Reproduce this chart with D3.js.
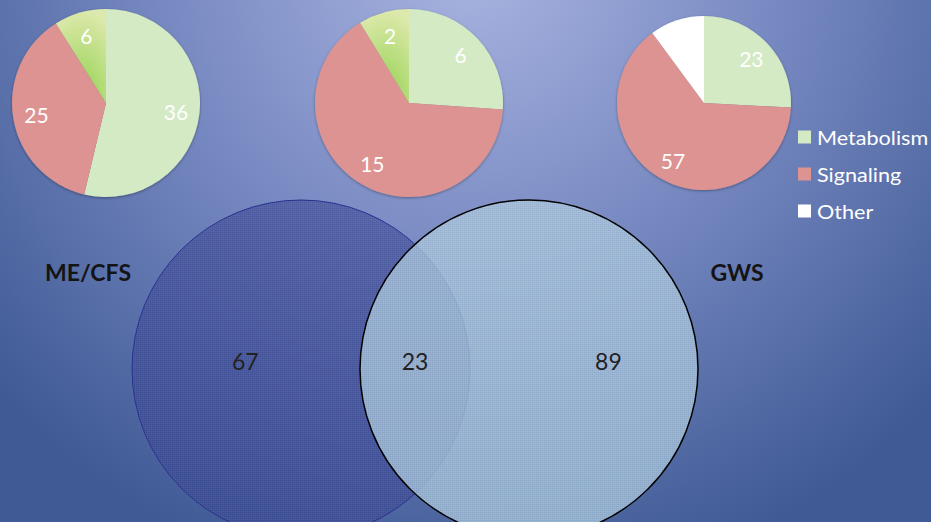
<!DOCTYPE html>
<html><head><meta charset="utf-8">
<script src="https://cdn.jsdelivr.net/npm/d3@7"></script>
<style>html,body{margin:0;padding:0;overflow:hidden;background:#6a7cb8}</style>
</head><body>
<script>
// ---- data ----
const categories = ["Metabolism", "Signaling", "Other"];
const metabolism = [36, 6, 23];
const signaling  = [25, 15, 57];
const other      = [6, 2, 9];
const vennSets   = ["ME/CFS", "GWS"];
const vennRegions = [67, 23, 89]; // ME/CFS only, both, GWS only

// ---- layout ----
const W = 931, H = 522;
const svg = d3.select("body").append("svg").attr("width", W).attr("height", H);
const defs = svg.append("defs");
const FONT = "Lato, 'Open Sans', sans-serif";

const bg = defs.append("radialGradient").attr("id","bg").attr("gradientUnits","userSpaceOnUse")
  .attr("cx", 470).attr("cy", -40).attr("r", 640);
bg.append("stop").attr("offset","0%").attr("stop-color","#a9b4e0");
bg.append("stop").attr("offset","45%").attr("stop-color","#7b8cc4");
bg.append("stop").attr("offset","100%").attr("stop-color","#3f5a95");
svg.append("rect").attr("width",W).attr("height",H).attr("fill","url(#bg)");

// gradient for green "other" slices
const og = defs.append("radialGradient").attr("id","otherGreen").attr("gradientUnits","objectBoundingBox")
  .attr("cx",0.5).attr("cy",1).attr("r",1);
og.append("stop").attr("offset","0%").attr("stop-color","#8fd04a");
og.append("stop").attr("offset","100%").attr("stop-color","#dde9ac");

// dither pattern
const pat = defs.append("pattern").attr("id","dither").attr("width",2).attr("height",2).attr("patternUnits","userSpaceOnUse");
pat.append("rect").attr("width",1).attr("height",1).attr("fill","#000").attr("opacity",0.06);
pat.append("rect").attr("x",1).attr("y",1).attr("width",1).attr("height",1).attr("fill","#fff").attr("opacity",0.05);

const shadow = defs.append("filter").attr("id","soft").attr("x","-10%").attr("y","-10%").attr("width","120%").attr("height","120%");
shadow.append("feGaussianBlur").attr("in","SourceAlpha").attr("stdDeviation",1.5).attr("result","b");
shadow.append("feOffset").attr("in","b").attr("dx",0).attr("dy",1).attr("result","o");
shadow.append("feComponentTransfer").attr("in","o").attr("result","s").append("feFuncA").attr("type","linear").attr("slope",0.35);
const mg = shadow.append("feMerge"); mg.append("feMergeNode").attr("in","s"); mg.append("feMergeNode").attr("in","SourceGraphic");

const colorScale = d3.scaleOrdinal().domain(categories).range(["#d3eac5", "#dd9391", "#ffffff"]);

// pies
const pieX = d3.scaleLinear().domain([0, 2]).range([106, 704]);
const pieCenters = [[pieX(0),103,94],[pieX(1)+4,103,94],[pieX(2),103,87]];
const pie = d3.pie().sort(null).value(d => d.v);

metabolism.forEach((m, i) => {
  const data = [
    {cat: categories[0], v: m},
    {cat: categories[1], v: signaling[i]},
    {cat: categories[2], v: other[i]}
  ];
  const [cx, cy, r] = pieCenters[i];
  const arc = d3.arc().innerRadius(0).outerRadius(r);
  const lab = d3.arc().innerRadius(r*0.75).outerRadius(r*0.75);
  const g = svg.append("g").attr("transform", `translate(${cx},${cy})`);
  const arcs = pie(data);
  g.append("g").attr("filter","url(#soft)").selectAll("path").data(arcs).join("path")
    .attr("d", arc)
    .attr("fill", d => (d.data.cat === "Other" && i < 2) ? "url(#otherGreen)" : colorScale(d.data.cat));
  g.selectAll("text").data(arcs.filter(d => d.data.cat !== "Other" || i < 2)).join("text")
    .attr("transform", d => `translate(${lab.centroid(d)})`)
    .attr("text-anchor","middle").attr("dominant-baseline","central")
    .attr("font-family", FONT).attr("font-size", 21).attr("fill","#fff")
    .text(d => d.data.v);
});

// legend
const leg = svg.append("g").attr("transform","translate(798,0)");
const legY = d3.scalePoint().domain(categories).range([137, 211]);
categories.forEach(c => {
  leg.append("rect").attr("x",0).attr("y",legY(c)-6.5).attr("width",13).attr("height",13).attr("fill",colorScale(c));
  leg.append("text").attr("transform",`translate(19,${legY(c)}) scale(1.08,1)`).attr("dominant-baseline","central")
    .attr("font-family",FONT).attr("font-size",20).attr("fill","#fff").text(c);
});

// venn
const vr = 169;
const vx = d3.scaleLinear().domain([0,1]).range([301, 529]);
const vcy = 369;
svg.append("circle").attr("cx",vx(0)).attr("cy",vcy).attr("r",vr)
  .attr("fill","#3c4896").attr("fill-opacity",0.6).attr("stroke","#2a3190").attr("stroke-width",1);
svg.append("circle").attr("cx",vx(0)).attr("cy",vcy).attr("r",vr).attr("fill","url(#dither)");
svg.append("circle").attr("cx",vx(1)).attr("cy",vcy).attr("r",vr)
  .attr("fill","#acc9de").attr("fill-opacity",0.77).attr("stroke","#000").attr("stroke-width",1.5);
svg.append("circle").attr("cx",vx(1)).attr("cy",vcy).attr("r",vr).attr("fill","url(#dither)");

const regionX = [vx(0) - vr*0.33, (vx(0)+vr + vx(1)-vr)/2, vx(1) + vr*0.47];
vennRegions.forEach((v, i) => {
  svg.append("text").attr("x",regionX[i]).attr("y",vcy-8).attr("text-anchor","middle").attr("dominant-baseline","central")
    .attr("font-family",FONT).attr("font-size",23).attr("fill","#222").text(v);
});

// set labels
svg.append("text").attr("x",88).attr("y",272).attr("text-anchor","middle").attr("dominant-baseline","central")
  .attr("font-family",FONT).attr("font-weight","bold").attr("font-size",23).attr("fill","#141414").text(vennSets[0]);
svg.append("text").attr("x",737).attr("y",272).attr("text-anchor","middle").attr("dominant-baseline","central")
  .attr("font-family",FONT).attr("font-weight","bold").attr("font-size",23).attr("fill","#141414").text(vennSets[1]);
</script>
</body></html>
